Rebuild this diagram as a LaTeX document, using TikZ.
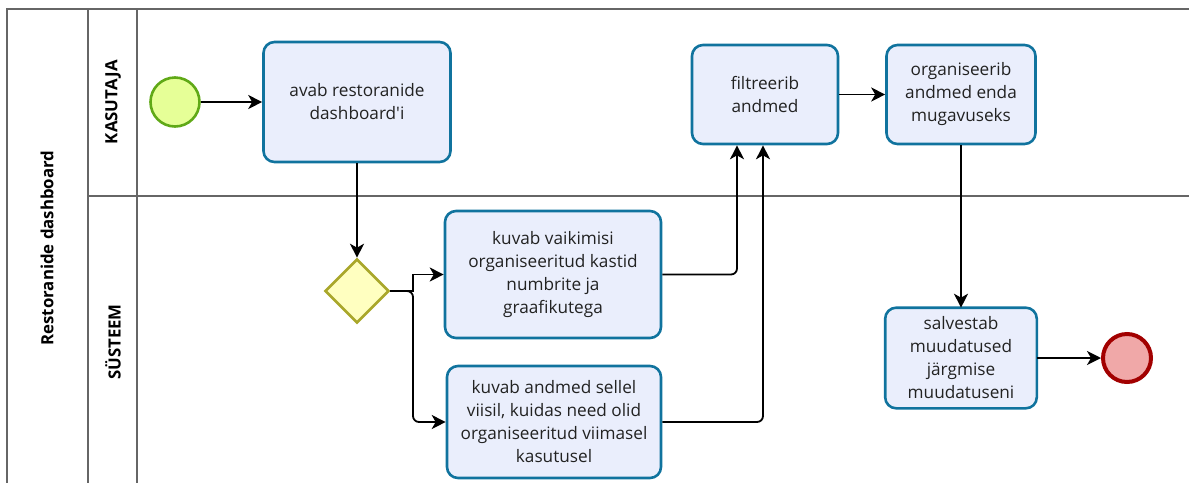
\documentclass[tikz,border=0pt]{standalone}
\usepackage{fontspec}
\setmainfont{Open Sans}[Ligatures=TeXOff]
\usetikzlibrary{arrows.meta,shapes.geometric}

\definecolor{taskfill}{HTML}{EAEEFC}
\definecolor{taskline}{HTML}{10739E}
\definecolor{startfill}{HTML}{E6FF97}
\definecolor{startline}{HTML}{60A917}
\definecolor{gwfill}{HTML}{FFFFC0}
\definecolor{gwline}{HTML}{A9A72A}
\definecolor{endfill}{HTML}{F0A8A8}
\definecolor{endline}{HTML}{A20000}
\definecolor{laneline}{HTML}{666666}
\definecolor{txt}{HTML}{222222}

\tikzset{
  lane/.style={draw=laneline, line width=2pt},
  lanelabel/.style={font=\fontsize{16.8}{19}\selectfont\bfseries, text=black, rotate=90},
  tasktext/.style={align=center, text=txt, font=\fontsize{17.2}{23}\selectfont, inner sep=0pt},
  task/.style={tasktext, draw=taskline, fill=taskfill, line width=2.6pt, rounded corners=11pt},
  taskrim/.style={draw=taskline, line width=2.6pt, rounded corners=11pt},
  startev/.style={circle, draw=startline, fill=startfill, line width=2.6pt, minimum size=49pt, inner sep=0pt},
  endev/.style={circle, draw=endline, fill=endfill, line width=4pt, minimum size=48pt, inner sep=0pt},
  gateway/.style={diamond, draw=gwline, fill=gwfill, line width=2.6pt, minimum width=64pt,
    minimum height=64pt, aspect=1, inner sep=0pt},
  flow/.style={draw=black, line width=1.8pt, -{Stealth[length=14pt,width=14pt,inset=4pt]}},
}

\begin{document}
\begin{tikzpicture}[x=1pt,y=-1pt]
\useasboundingbox (0,0) rectangle (1189,483);
\clip (0,0) rectangle (1189,483);

% pool and lanes
\draw[lane] (1189,9) -- (7,9) -- (7,483);
\draw[lane] (88,9) -- (88,483);
\draw[lane] (137,9) -- (137,483);
\draw[lane] (88,196) -- (1189,196);

\node[lanelabel] (pool) at (47,248) {Restoranide dashboard};
\node[lanelabel] (laneA) at (113,102) {KASUTAJA};
\node[lanelabel] (laneB) at (113,342) {SÜSTEEM};

% events and gateway
\node[startev] (start) at (175,102) {};
\node[endev] (end) at (1127,358) {};
\node[gateway] (gw) at (357,291) {};

% tasks
\node[task, minimum width=187pt, minimum height=120pt] (avab) at (357,102)
  {avab restoranide\\dashboard'i};
\node[task, minimum width=216pt, minimum height=127pt] (vaik) at (553,274.5)
  {kuvab vaikimisi\\organiseeritud kastid\\numbrite ja\\graafikutega};
\node[task, minimum width=214pt, minimum height=112pt] (andm) at (554,422)
  {kuvab andmed sellel\\viisil, kuidas need olid\\organiseeritud viimasel\\kasutusel};
\node[task, minimum width=146pt, minimum height=99pt] (filt) at (765,94.5)
  {filtreerib\\andmed};
\node[task, minimum width=149pt, minimum height=99pt] (org) at (961,94.5)
  {organiseerib\\andmed enda\\mugavuseks};
% this task's text runs past its frame, so the text is clipped and the frame drawn last
\node[task, draw=none, minimum width=149pt, minimum height=98pt] (salv) at (961,358) {};
\begin{scope}
  \clip[rounded corners=11pt] (salv.north west) rectangle (salv.south east);
  \node[tasktext] (salvtext) at (salv.center) {salvestab\\muudatused\\järgmise\\muudatuseni};
\end{scope}
\draw[taskrim] (salv.north west) rectangle (salv.south east);

% sequence flows
\coordinate (split) at (413,291);
\draw[flow] (start) -- (avab);
\draw[flow] (avab) -- (gw);
\draw[flow] (gw.east) -- (split) |- (vaik.west);
\draw[flow, rounded corners=6pt] (gw.east) -- (split) |- (andm.west);
\draw[flow, rounded corners=6pt] (vaik.east) -| ([xshift=-28pt]filt.south);
\draw[flow, rounded corners=6pt] (andm.east) -| ([xshift=-2pt]filt.south);
\draw[flow] (filt) -- (org);
\draw[flow] (org) -- (salv);
\draw[flow] (salv) -- (end);
\end{tikzpicture}
\end{document}
